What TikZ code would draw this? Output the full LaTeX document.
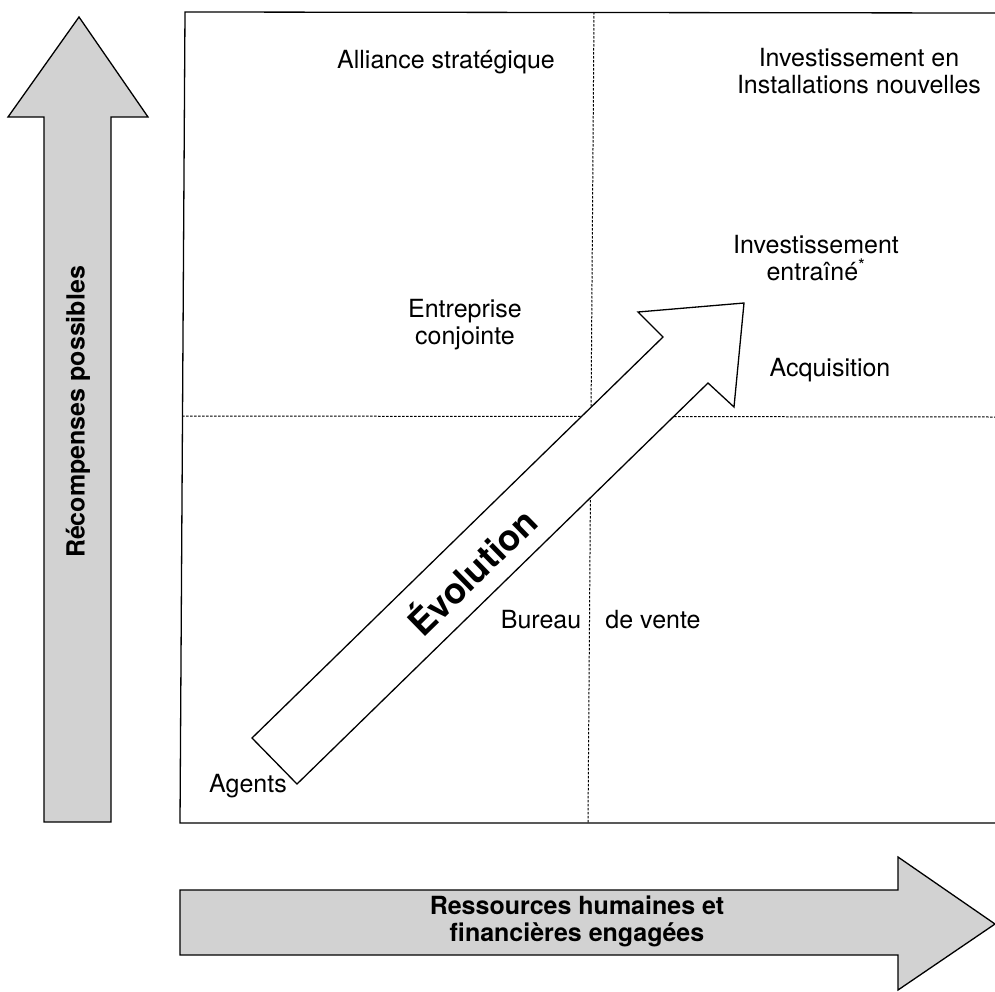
\documentclass[tikz,border=0pt]{standalone}
\usepackage{fontspec}
\setmainfont{TeX Gyre Heros}
\usetikzlibrary{positioning}

\begin{document}
\begin{tikzpicture}[
  x=1pt, y=-1pt,
  lbl/.style={font=\fontsize{25}{27}\selectfont, align=center, inner sep=0pt},
  axlbl/.style={font=\bfseries\fontsize{25}{27}\selectfont, align=center, inner sep=0pt},
  bigarrow/.style={draw, line width=1.3pt, fill=gray!35, line join=miter},
  evoarrow/.style={draw, line width=1.3pt, fill=white, line join=miter},
  frame/.style={line width=1.3pt},
  split/.style={line width=1pt, dash pattern=on 2.5pt off 1.5pt}
]
  \useasboundingbox (0,0) rectangle (995,991);

  % axes
  \draw[bigarrow] (44,822) -- (44,117) -- (8,117) -- (79,17) -- (148,117)
    -- (111,117) -- (111,822) -- cycle;
  \draw[bigarrow] (180,890) -- (898,890) -- (898,857) -- (995,924) -- (898,990)
    -- (898,955) -- (180,955) -- cycle;
  \node[axlbl, rotate=90] (rewards) at (78,412) {Récompenses possibles};
  \node[axlbl] (resources) at (577,921) {Ressources humaines et\\financières engagées};

  % matrix
  \draw[frame] (995,13) -- (185,12) -- (180,823) -- (995,823);
  \draw[split] (594,12) -- (588,823);
  \draw[split] (182,416) -- (995,417);

  % evolution
  \draw[evoarrow] (252,738) -- (663,337) -- (638,312) -- (744,303) -- (734,407)
    -- (708,383) -- (297,784) -- cycle;
  \node[font=\bfseries\fontsize{36}{40}\selectfont, rotate=44.3, inner sep=0pt]
    (evo) at (470,570) {Évolution};

  % modes
  \node[lbl] (alliance) at (446,62) {Alliance stratégique};
  \node[lbl] (greenfield) at (859,71) {Investissement en\\Installations nouvelles};
  \node[lbl] (induced) at (816,258) {Investissement\\entraîné\textsuperscript{*}};
  \node[lbl] (jv) at (465,325) {Entreprise\\conjointe};
  \node[lbl] (acq) at (830,370) {Acquisition};
  \node[lbl] (bureau) at (541,620) {Bureau};
  \node[lbl] (vente) at (653,620) {de vente};
  \node[lbl] (agents) at (248,786) {Agents};
\end{tikzpicture}
\end{document}
